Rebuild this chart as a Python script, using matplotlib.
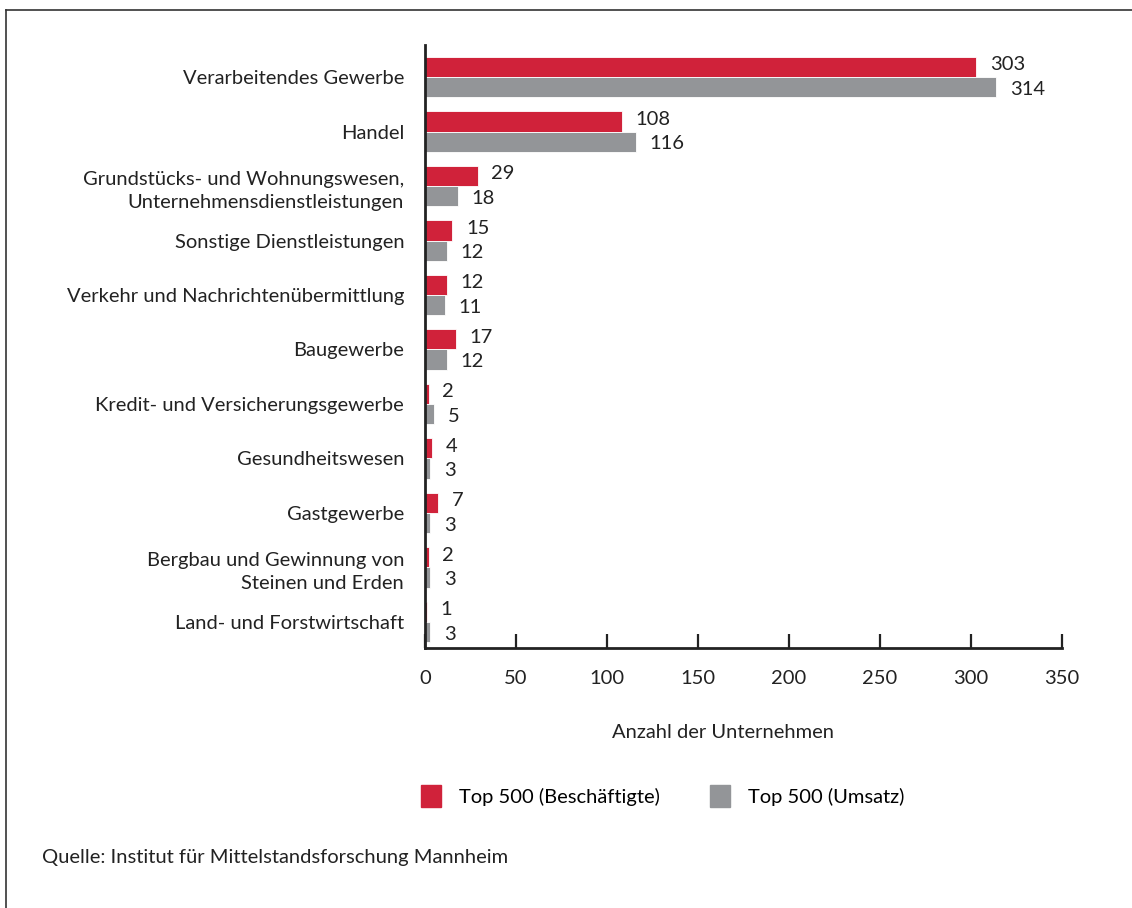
import numpy as np
import matplotlib
matplotlib.use('Agg')
import matplotlib.pyplot as plt
from matplotlib.lines import Line2D
from matplotlib.patches import Patch

# Data
categories = [
    'Verarbeitendes Gewerbe',
    'Handel',
    'Grundstücks- und Wohnungswesen,\nUnternehmensdienstleistungen',
    'Sonstige Dienstleistungen',
    'Verkehr und Nachrichtenübermittlung',
    'Baugewerbe',
    'Kredit- und Versicherungsgewerbe',
    'Gesundheitswesen',
    'Gastgewerbe',
    'Bergbau und Gewinnung von\nSteinen und Erden',
    'Land- und Forstwirtschaft',
]
beschaeftigte = [303, 108, 29, 15, 12, 17, 2, 4, 7, 2, 1]
umsatz = [314, 116, 18, 12, 11, 12, 5, 3, 3, 3, 3]
x_ticks = [0, 50, 100, 150, 200, 250, 300, 350]

RED = '#d0223a'
GRAY = '#939598'
TXT = '#222222'

plt.rcParams['font.family'] = ['Lato', 'DejaVu Sans']
plt.rcParams['font.size'] = 14.5

fig = plt.figure(figsize=(11.32, 9.08), dpi=100)
ax = fig.add_axes([425 / 1132, 1 - 648 / 908, (1062 - 425) / 1132, (648 - 45) / 908])

y = np.arange(len(categories))
h = 0.37
ax.barh(y - h / 2, beschaeftigte, height=h, color=RED, edgecolor='white', linewidth=0.6)
ax.barh(y + h / 2, umsatz, height=h, color=GRAY, edgecolor='white', linewidth=0.6)

for i, (b, u) in enumerate(zip(beschaeftigte, umsatz)):
    ax.text(b + 7.5, i - h / 2 - 0.04, str(b), va='center', ha='left', color=TXT)
    ax.text(u + 7.5, i + h / 2 + 0.04, str(u), va='center', ha='left', color=TXT)

ax.set_xlim(0, 350)
ax.set_ylim(10.48, -0.59)
ax.set_xticks(x_ticks)
ax.set_yticks(y)
ax.set_yticklabels(categories, color=TXT, linespacing=1.45)
ax.tick_params(axis='y', length=0, pad=15)
ax.tick_params(axis='x', direction='in', length=10, width=1.6, pad=16, colors='#222222')

for s in ['top', 'right']:
    ax.spines[s].set_visible(False)
for s in ['left', 'bottom']:
    ax.spines[s].set_linewidth(2)
    ax.spines[s].set_color('#222222')

fig.text(723 / 1132, 1 - 733 / 908, 'Anzahl der Unternehmen', ha='center', va='center', color=TXT)

handles = [Patch(color=RED), Patch(color=GRAY)]
fig.legend(handles, ['Top 500 (Beschäftigte)', 'Top 500 (Umsatz)'],
           loc='center left', bbox_to_anchor=(407 / 1132, 1 - 796 / 908), ncol=2,
           frameon=False, handlelength=1.0, handleheight=1.3, columnspacing=2.45,
           handletextpad=0.9, borderaxespad=0.3)

fig.text(42 / 1132, 1 - 858 / 908, 'Quelle: Institut für Mittelstandsforschung Mannheim',
         ha='left', va='center', color=TXT)

# frame lines
fig.add_artist(Line2D([6 / 1132, 6 / 1132], [0, 1 - 10 / 908], transform=fig.transFigure,
                      color='#333333', linewidth=1.2))
fig.add_artist(Line2D([6 / 1132, 1], [1 - 10 / 908, 1 - 10 / 908], transform=fig.transFigure,
                      color='#333333', linewidth=1.2))

fig.savefig('out.png', dpi=100)
